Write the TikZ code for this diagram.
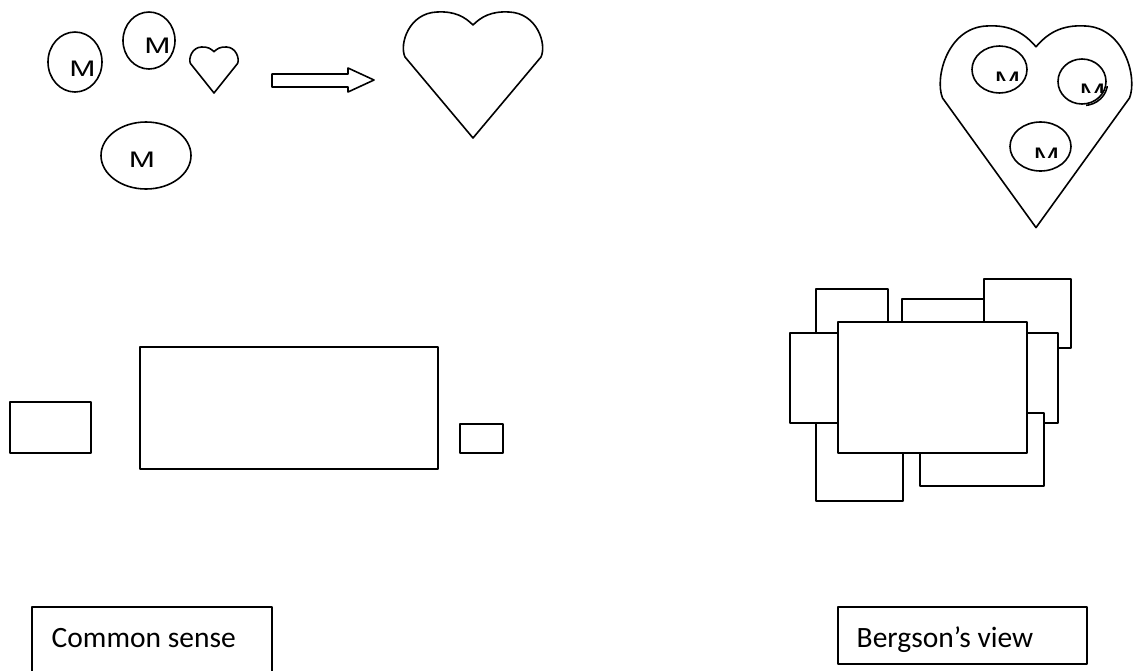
\documentclass[tikz,border=0pt]{standalone}
\usepackage{fontspec}
\setmainfont{Carlito}
\newfontfamily\arialfont{Liberation Sans}
\usetikzlibrary{shapes.geometric}

\tikzset{
  outline/.style={draw=black, line width=1.6pt, line join=round},
  boxed/.style={outline, fill=white},
  mring/.style={outline, ellipse, inner sep=0pt},
  mletter/.style={anchor=base, inner sep=0pt, font=\arialfont\fontsize{22.5}{22.5}\selectfont},
  caption/.style={anchor=base west, inner sep=0pt, font=\fontsize{29.5}{29.5}\selectfont},
  heart/.pic={
    \draw[outline] (0,126) -- (-68,45)
      .. controls (-74,32) and (-64,1) .. (-36,0)
      .. controls (-18,-1) and (-8,5) .. (0,13)
      .. controls (8,5) and (18,-1) .. (36,0)
      .. controls (64,1) and (74,32) .. (68,45) -- cycle;
  }
}
\newcommand{\wideM}{\scalebox{1.4}[1]{M}}

\begin{document}
\begin{tikzpicture}[x=1pt, y=-1pt]
\useasboundingbox (0,0) rectangle (1133,670);

% --- common sense: separate pieces ---------------------------------
\node[mring, minimum width=54pt, minimum height=60pt] (ma) at (75,62) {};
\node[mletter] (ta) at (82.5,76) {\wideM};
\node[mring, minimum width=52pt, minimum height=57pt] (mb) at (149,40.5) {};
\node[mletter] (tb) at (157.5,53) {\wideM};
\node[mring, minimum width=90pt, minimum height=67pt] (mc) at (146,155.5) {};
\node[mletter] (tc) at (142,167) {\wideM};

\pic[xscale=0.347, yscale=0.365] (hs) at (214,47) {heart};

% block arrow
\draw[outline] (272,74) -- (348,74) -- (348,68) -- (374,80) -- (348,92)
  -- (348,87) -- (272,87) -- cycle;

\pic (hb) at (473,12) {heart};

% --- Bergson: everything held together ----------------------------
\pic[xscale=1.375, yscale=1.6] (hr) at (1036,26) {heart};

\node[mring, minimum width=55pt, minimum height=47pt] (ra) at (999.5,69.5) {};
\begin{scope}
  \clip (980,60) rectangle (1030,80);
  \node[mletter] (rta) at (1007.5,87) {\wideM};
\end{scope}

\node[mring, minimum width=48pt, minimum height=45pt] (rb) at (1082,81.5) {};
\begin{scope}
  \clip (1086,86) rectangle (1112,110);
  \draw[outline] (1083.5,83) ellipse [x radius=24pt, y radius=22.5pt];
\end{scope}
\begin{scope}
  \clip (1070,75) rectangle (1110,92);
  \node[mletter] (rtb) at (1092.5,99) {\wideM};
\end{scope}

\node[mring, minimum width=61pt, minimum height=49pt] (rc) at (1040.5,146.5) {};
\begin{scope}
  \clip (1025,140) rectangle (1065,157);
  \node[mletter] (rtc) at (1046.5,163) {\wideM};
\end{scope}

% --- common sense: rectangles side by side ------------------------
\draw[boxed] (10,402) rectangle (91,453);
\draw[boxed] (140,347) rectangle (438,469);
\draw[boxed] (460,424) rectangle (503,453);

% --- Bergson: overlapping rectangles ------------------------------
\draw[boxed] (816,289) rectangle (888,360);
\draw[boxed] (816,400) rectangle (903,501);
\draw[boxed] (790,333) rectangle (860,423);
\draw[boxed] (902,299) rectangle (1000,360);
\draw[boxed] (984,279) rectangle (1071,348);
\draw[boxed] (1000,333) rectangle (1058,423);
\draw[boxed] (920,413) rectangle (1044,486);
\draw[boxed] (838,322) rectangle (1027,453);

% --- captions -----------------------------------------------------
\draw[outline] (32,607) rectangle (272,690);
\node[caption] (cs) at (51.5,647) {Common sense};
\draw[outline] (838,607) rectangle (1087,664);
\node[caption] (bv) at (856.5,647) {Bergson’s view};
\end{tikzpicture}
\end{document}
